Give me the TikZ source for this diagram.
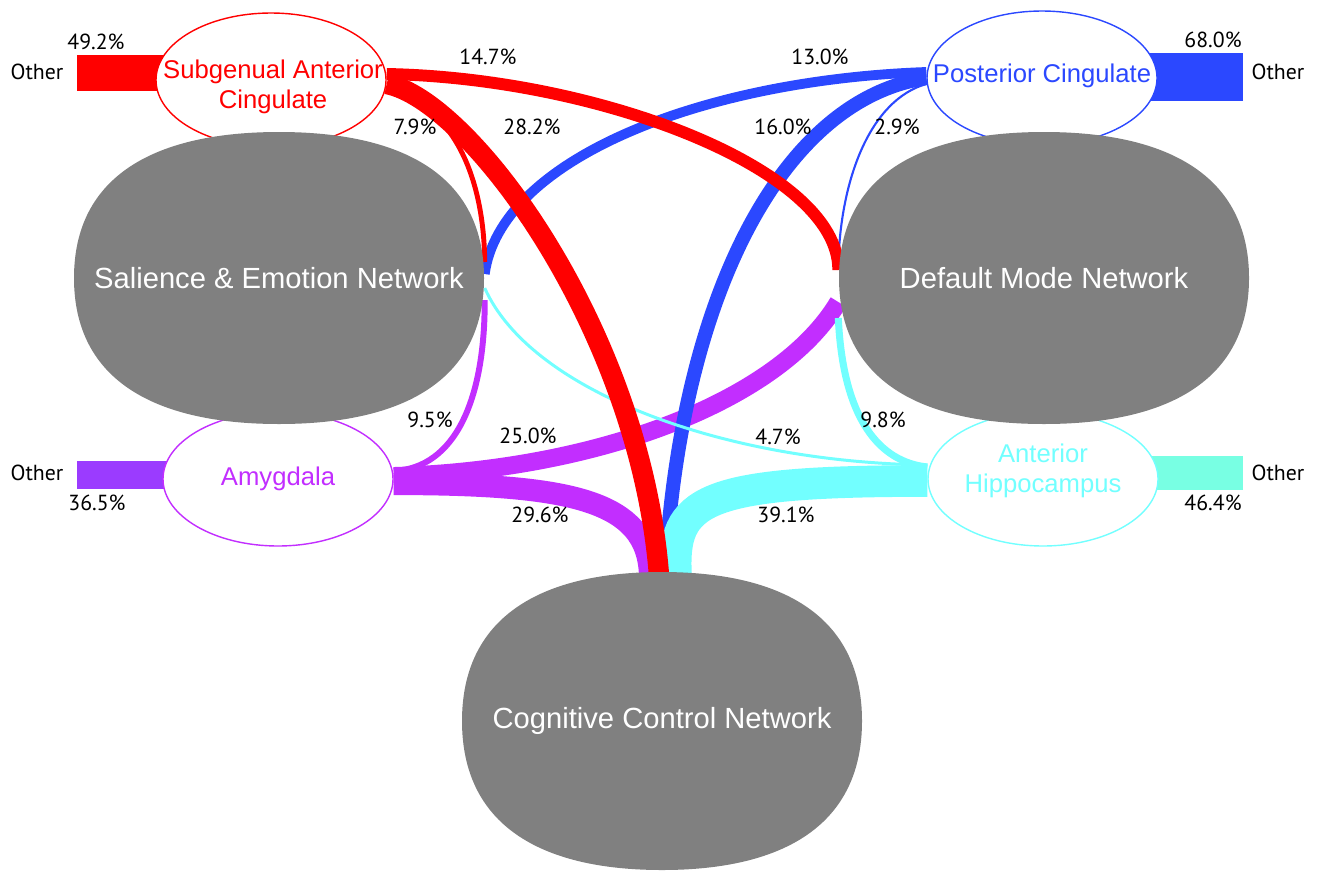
\documentclass[tikz,border=0pt]{standalone}
\usepackage{fontspec}
\setmainfont{Liberation Sans}
\newfontfamily\pctfont{PT Sans}
\usetikzlibrary{calc, positioning, shapes.geometric, backgrounds}

\definecolor{netgray}{HTML}{808080}
\definecolor{sacred}{HTML}{FF0000}
\definecolor{pccblue}{HTML}{2B48FF}
\definecolor{amypurple}{HTML}{C22EFF}
\definecolor{amybar}{HTML}{9B3BFF}
\definecolor{ahccyan}{HTML}{72FFFF}
\definecolor{ahcbar}{HTML}{78FFE3}

\begin{document}
\begin{tikzpicture}[x=0.1mm, y=-0.1mm,
  net/.style={minimum width=41mm, minimum height=29.2mm, inner sep=0pt, text=white,
    font=\fontsize{8.3}{10}\selectfont,
    path picture={\fill[netgray]
      (path picture bounding box.east) .. controls +(0,-103) and +(123,0) ..
      (path picture bounding box.north) .. controls +(-123,0) and +(0,-103) ..
      (path picture bounding box.west) .. controls +(0,103) and +(-123,0) ..
      (path picture bounding box.south) .. controls +(123,0) and +(0,103) ..
      (path picture bounding box.east) -- cycle;}},
  region/.style={ellipse, draw, fill=white, minimum width=23mm, minimum height=13.4mm,
    inner sep=0pt},
  regtext/.style={align=center, inner sep=0pt, font=\fontsize{7.3}{8.4}\selectfont},
  pct/.style={font=\pctfont\fontsize{6.2}{7}\selectfont}]
  \useasboundingbox (0,0) rectangle (1322,871);

  % seed regions
  \node[region, draw=sacred] (sac) at (271,80) {};
  \node[region, draw=pccblue] (pcc) at (1042,78) {};
  \node[region, draw=amypurple] (amy) at (278,479) {};
  \node[region, draw=ahccyan] (ahc) at (1043,479) {};
  \node[regtext, text=sacred] (sact) at (273,87) {Subgenual Anterior\\Cingulate};
  \node[regtext, text=pccblue] (pcct) at (1042,76) {Posterior Cingulate};
  \node[regtext, text=amypurple] (amyt) at (278,479) {Amygdala};
  \node[regtext, text=ahccyan] (ahct) at (1043,471) {Anterior\\Hippocampus};

  % networks
  \node[net] (sal) at (279,278) {Salience \& Emotion Network};
  \node[net] (dmn) at (1044,278) {Default Mode Network};
  \node[net, minimum width=40mm, minimum height=29.8mm] (ccn) at (662,721) {Cognitive Control Network};

  % "other" ends
  \coordinate (o1) at (77,73);
  \coordinate (o2) at (1243,77);
  \coordinate (o3) at (77,475);
  \coordinate (o4) at (1243,473);

  \begin{scope}[on background layer]
    \draw[sacred, line width=10.5pt] (o1) -- (o1 -| sac);
    \draw[pccblue, line width=13.7pt] (o2) -- (o2 -| pcc);
    \draw[amybar, line width=7.7pt] (o3) -- (o3 -| amy);
    \draw[ahcbar, line width=9.4pt] (o4) -- (o4 -| ahc);
    % amygdala
    \draw[amypurple, line width=1.7pt] ($(amy.east)+(0,-8)$)
      .. controls (455,468) and (485,400) .. ($(sal.east)+(0,22)$);
    \draw[amypurple, line width=5.1pt] ($(amy.east)+(0,-3)$)
      .. controls (600,470) and (780,400) .. ($(dmn.west)+(0,24)$);
    \draw[amypurple, line width=6.3pt] ($(amy.east)+(0,5)$)
      .. controls (570,484) and (648,500) .. ($(ccn.north)+(-12,4)$);
    % posterior cingulate
    \draw[pccblue, line width=0.6pt] ($(pcc.west)+(0,6)$)
      .. controls (870,100) and (840,180) .. ($(dmn.west)+(0,-12)$);
    \draw[pccblue, line width=2.8pt] ($(pcc.west)+(0,-6)$)
      .. controls (700,80) and (500,160) .. ($(sal.east)+(0,-4)$);
    \draw[pccblue, line width=4pt] (pcc.west)
      .. controls (780,100) and (680,300) .. ($(ccn.north)+(3,4)$);
    % anterior hippocampus
    \draw[ahccyan, line width=0.85pt] ($(ahc.west)+(0,-14)$)
      .. controls (720,462) and (530,390) .. ($(sal.east)+(0,10)$);
    \draw[ahccyan, line width=2pt] ($(ahc.west)+(0,-12)$)
      .. controls (880,462) and (843,420) .. ($(dmn.west)+(0,40)$);
    \draw[ahccyan, line width=9pt] ($(ahc.west)+(0,2)$)
      .. controls (700,481) and (672,500) .. ($(ccn.north)+(14,4)$);
    % subgenual anterior cingulate
    \draw[sacred, line width=1.4pt] ($(sac.east)+(0,10)$)
      .. controls (455,105) and (484,180) .. ($(sal.east)+(0,-16)$);
    \draw[sacred, line width=3.4pt] ($(sac.east)+(0,-6)$)
      .. controls (600,78) and (839,170) .. ($(dmn.west)+(0,-8)$);
    \draw[sacred, line width=5.8pt] ($(sac.east)+(0,4)$)
      .. controls (470,100) and (640,330) .. ($(ccn.north)+(-3,4)$);
  \end{scope}

  % labels
  \node[pct] (l1) at (37,72) {Other};
  \node[pct] (l2) at (96,42) {49.2\%};
  \node[pct] (l3) at (488,57) {14.7\%};
  \node[pct] (l4) at (415,127) {7.9\%};
  \node[pct] (l5) at (532,127) {28.2\%};
  \node[pct] (l6) at (820,57) {13.0\%};
  \node[pct] (l7) at (783,127) {16.0\%};
  \node[pct] (l8) at (897,127) {2.9\%};
  \node[pct] (l9) at (1213,40) {68.0\%};
  \node[pct] (l10) at (1278,72) {Other};
  \node[pct] (l11) at (430,420) {9.5\%};
  \node[pct] (l12) at (528,436) {25.0\%};
  \node[pct] (l13) at (540,515) {29.6\%};
  \node[pct] (l14) at (778,437) {4.7\%};
  \node[pct] (l15) at (883,420) {9.8\%};
  \node[pct] (l16) at (786,515) {39.1\%};
  \node[pct] (l17) at (37,473) {Other};
  \node[pct] (l18) at (97,503) {36.5\%};
  \node[pct] (l19) at (1278,473) {Other};
  \node[pct] (l20) at (1213,503) {46.4\%};
\end{tikzpicture}
\end{document}
